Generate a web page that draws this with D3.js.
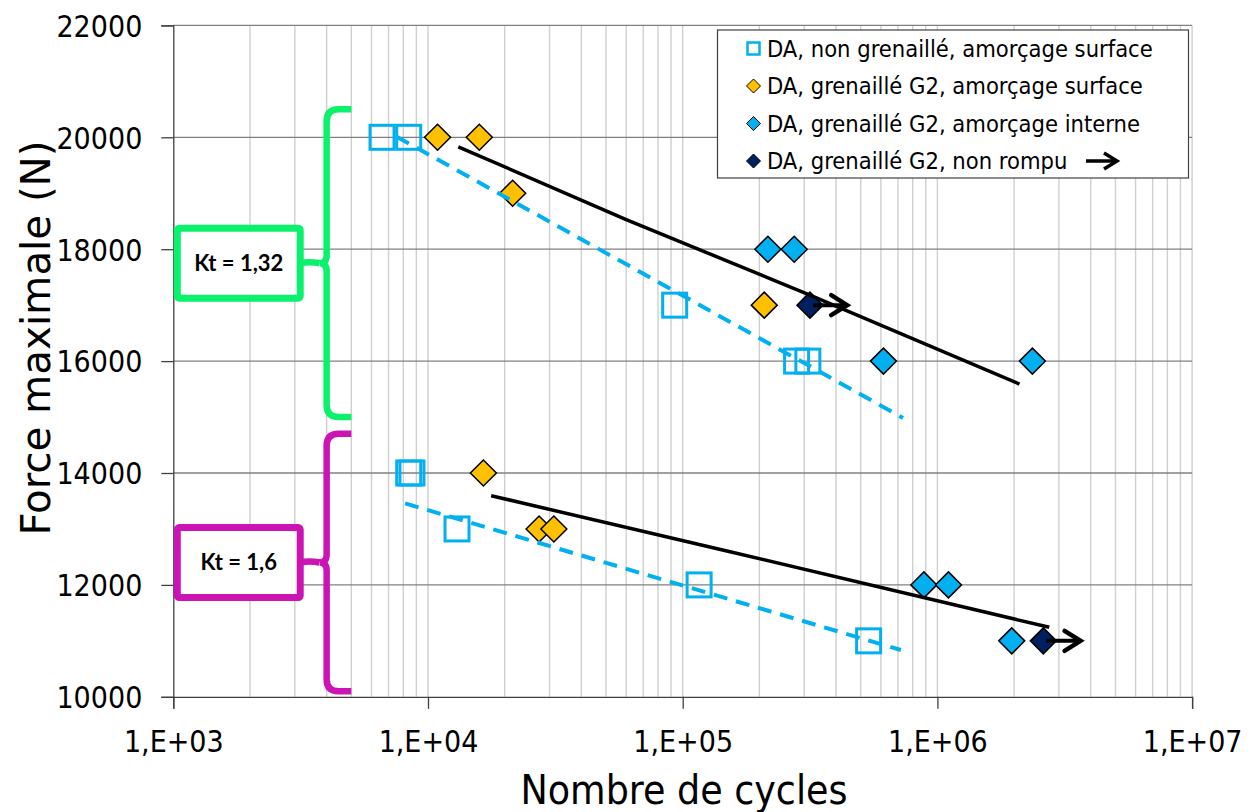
<!DOCTYPE html>
<html>
<head>
<meta charset="utf-8">
<script src="https://cdn.jsdelivr.net/npm/d3@7"></script>
<style>
  body { margin: 0; background: #fff; }
  svg { display: block; }
  .tick-label { font-family: "DejaVu Sans Condensed", "DejaVu Sans", sans-serif; font-size: 30px; fill: #000; }
  .axis-title { font-family: "DejaVu Sans Condensed", "DejaVu Sans", sans-serif; font-size: 40px; fill: #000; }
  .legend-text { font-family: "DejaVu Sans Condensed", "DejaVu Sans", sans-serif; font-size: 23.5px; fill: #000; }
  .kt-text { font-family: Lato, "Open Sans", sans-serif; font-weight: bold; font-size: 22px; fill: #000; }
</style>
</head>
<body>
<svg id="chart" width="1257" height="812"></svg>
<script>
// ----- data -----
// DA, non grenaille, amorcage surface (open squares)
const ngCycles = [6600, 8400, 93000, 280000, 310000, 8400, 8650, 13000, 116000, 537000]
const ngForce = [20000, 20000, 17000, 16000, 16000, 14000, 14000, 13000, 12000, 11000]
// DA, grenaille G2, amorcage surface (orange diamonds)
const gsCycles = [10900, 15900, 21500, 209000, 16500, 27300, 31200]
const gsForce = [20000, 20000, 19000, 17000, 14000, 13000, 13000]
// DA, grenaille G2, amorcage interne (cyan diamonds)
const giCycles = [216000, 274000, 614000, 2360000, 885000, 1105000, 1958000]
const giForce = [18000, 18000, 16000, 16000, 12000, 12000, 11000]
// DA, grenaille G2, non rompu (navy diamonds + arrow)
const nrCycles = [316000, 2606000]
const nrForce = [17000, 11000]

// fitted curves
const fitG2Cycles = [[13150, 60000, 316000, 2100000], [17700, 153500, 2750000]]
const fitG2Force = [[19830, 18530, 17180, 15590], [13594, 12593, 11242]]
const fitNgCycles = [[7530, 733000], [8130, 719000]]
const fitNgForce = [[20011, 14983], [13458, 10836]]

// Kt groups
const ktLabels = ['Kt = 1,32', 'Kt = 1,6']
const ktTop = [20500, 14700]
const ktBottom = [15000, 10100]
const ktMid = [17750, 12400]
const ktColors = ['#0af26c', '#cc14b4']

// axes
const xTicks = [1e3, 1e4, 1e5, 1e6, 1e7]
const xTickLabels = ['1,E+03', '1,E+04', '1,E+05', '1,E+06', '1,E+07']
const yTicks = [10000, 12000, 14000, 16000, 18000, 20000, 22000]

const legendLabels = [
  'DA, non grenaillé, amorçage surface',
  'DA, grenaillé G2, amorçage surface',
  'DA, grenaillé G2, amorçage interne',
  'DA, grenaillé G2, non rompu'
]

const cyan = '#00b0f0'
const orange = '#ffc000'
const navy = '#002060'

const svg = d3.select('#chart')
const plotLeft = 173.3, plotRight = 1192.1, plotTop = 25.4, plotBottom = 696.8

const x = d3.scaleLog().domain([1e3, 1e7]).range([plotLeft, plotRight])
const y = d3.scaleLinear().domain([10000, 22000]).range([plotBottom, plotTop])

// minor vertical gridlines 1..9 x 10^k
const minor = []
for (let k = 3; k < 7; k++) {
  for (let m = 2; m <= 10; m++) minor.push(m * Math.pow(10, k))
}
svg.append('g')
  .selectAll('line')
  .data(minor)
  .enter()
  .append('line')
  .attr('x1', d => x(d)).attr('x2', d => x(d))
  .attr('y1', plotTop).attr('y2', plotBottom)
  .attr('stroke', '#cfcfcf')
  .attr('stroke-width', 1.4)

// horizontal gridlines
svg.append('g')
  .selectAll('line')
  .data(yTicks.slice(1))
  .enter()
  .append('line')
  .attr('x1', plotLeft).attr('x2', plotRight)
  .attr('y1', d => y(d)).attr('y2', d => y(d))
  .attr('stroke', '#808080')
  .attr('stroke-width', 1.3)

// axes
const bottomAxis = d3.axisBottom(x)
  .tickValues(xTicks)
  .tickSize(12)
  .tickFormat((d, i) => xTickLabels[i])
const xg = svg.append('g')
  .attr('transform', `translate(0, ${plotBottom})`)
  .call(bottomAxis)
xg.attr('font-size', null).attr('font-family', null)
xg.select('.domain').attr('stroke', '#404040').attr('stroke-width', 1.3)
xg.selectAll('.tick line').attr('stroke', '#404040').attr('stroke-width', 1.3)
xg.selectAll('.tick text')
  .attr('class', 'tick-label')
  .attr('y', 55)
  .attr('dy', null)

const leftAxis = d3.axisLeft(y)
  .tickValues(yTicks)
  .tickSize(12)
  .tickFormat(d3.format('d'))
const yg = svg.append('g')
  .attr('transform', `translate(${plotLeft}, 0)`)
  .call(leftAxis)
yg.attr('font-size', null).attr('font-family', null)
yg.select('.domain').attr('stroke', '#404040').attr('stroke-width', 1.3)
yg.selectAll('.tick line').attr('stroke', '#404040').attr('stroke-width', 1.3)
yg.selectAll('.tick text')
  .attr('class', 'tick-label')
  .attr('x', -31)
  .attr('dy', '0.36em')

// axis titles
svg.append('text')
  .attr('class', 'axis-title')
  .attr('x', 684)
  .attr('y', 804)
  .attr('text-anchor', 'middle')
  .attr('textLength', 327)
  .attr('lengthAdjust', 'spacingAndGlyphs')
  .text('Nombre de cycles')
svg.append('text')
  .attr('class', 'axis-title')
  .attr('transform', `translate(50, 338) rotate(-90)`)
  .attr('text-anchor', 'middle')
  .attr('textLength', 395)
  .attr('lengthAdjust', 'spacingAndGlyphs')
  .text('Force maximale (N)')

// Kt braces and boxes
const x4 = x(4000), x5 = x(5000)
ktLabels.forEach((label, i) => {
  const yt = y(ktTop[i]), yb = y(ktBottom[i]), ym = y(ktMid[i])
  const r = 12
  const brace = `M${x5},${yt} L${x4 + r},${yt} Q${x4},${yt} ${x4},${yt + r} ` +
    `L${x4},${ym - 8} Q${x4},${ym} ${x4 - 7},${ym} Q${x4},${ym} ${x4},${ym + 8} ` +
    `L${x4},${yb - r} Q${x4},${yb} ${x4 + r},${yb} L${x5},${yb}`
  svg.append('path')
    .attr('d', brace)
    .attr('fill', 'none')
    .attr('stroke', ktColors[i])
    .attr('stroke-width', 6.5)
  const bx0 = x(1000) + 4, bx1 = x(3150)
  svg.append('path')
    .attr('d', `M${bx1},${ym} Q${x4 - 18},${ym - 2} ${x4 - 7},${ym}`)
    .attr('fill', 'none')
    .attr('stroke', ktColors[i])
    .attr('stroke-width', 6.5)
  svg.append('rect')
    .attr('x', bx0)
    .attr('y', ym - 35)
    .attr('width', bx1 - bx0)
    .attr('height', 70)
    .attr('rx', 2)
    .attr('fill', '#fff')
    .attr('stroke', ktColors[i])
    .attr('stroke-width', 7)
  svg.append('text')
    .attr('class', 'kt-text')
    .attr('x', (bx0 + bx1) / 2)
    .attr('y', ym)
    .attr('dy', '0.36em')
    .attr('text-anchor', 'middle')
    .text(label)
})

// markers
const diamond = s => `M0,${-s} L${s},0 L0,${s} L${-s},0 Z`

svg.append('g')
  .selectAll('rect')
  .data(ngCycles.map((c, i) => ({ c: c, f: ngForce[i] })))
  .enter()
  .append('rect')
  .attr('x', d => x(d.c) - 12)
  .attr('y', d => y(d.f) - 12)
  .attr('width', 24)
  .attr('height', 24)
  .attr('fill', 'none')
  .attr('stroke', cyan)
  .attr('stroke-width', 3)

function diamonds(cycles, force, fill) {
  svg.append('g')
    .selectAll('path')
    .data(cycles.map((c, i) => ({ c: c, f: force[i] })))
    .enter()
    .append('path')
    .attr('d', diamond(13))
    .attr('transform', d => `translate(${x(d.c)}, ${y(d.f)})`)
    .attr('fill', fill)
    .attr('stroke', '#000')
    .attr('stroke-width', 1.5)
}
diamonds(gsCycles, gsForce, orange)
diamonds(giCycles, giForce, cyan)
diamonds(nrCycles, nrForce, navy)

// fit lines
const line = d3.line().x(d => x(d[0])).y(d => y(d[1]))
fitNgCycles.forEach((cs, i) => {
  svg.append('path')
    .attr('d', line(cs.map((c, j) => [c, fitNgForce[i][j]])))
    .attr('fill', 'none')
    .attr('stroke', cyan)
    .attr('stroke-width', 4)
    .attr('stroke-dasharray', '14,9')
})
fitG2Cycles.forEach((cs, i) => {
  svg.append('path')
    .attr('d', line(cs.map((c, j) => [c, fitG2Force[i][j]])))
    .attr('fill', 'none')
    .attr('stroke', '#000')
    .attr('stroke-width', 3.5)
})

// run-out arrows
function arrow(x0, x1, yy) {
  svg.append('line')
    .attr('x1', x0).attr('x2', x1 - 2)
    .attr('y1', yy).attr('y2', yy)
    .attr('stroke', '#000').attr('stroke-width', 4)
  svg.append('path')
    .attr('d', `M${x1 - 16},${yy - 10} L${x1},${yy} L${x1 - 16},${yy + 10}`)
    .attr('fill', 'none')
    .attr('stroke', '#000')
    .attr('stroke-width', 4.5)
    .attr('stroke-linecap', 'round')
}
nrCycles.forEach((c, i) => arrow(x(c) + 3, x(c * 1.4), y(nrForce[i])))

// legend
const lg = svg.append('g')
lg.append('rect')
  .attr('x', 717.5).attr('y', 30)
  .attr('width', 471).attr('height', 148)
  .attr('fill', '#fff')
  .attr('stroke', '#404040')
  .attr('stroke-width', 1.2)
const legendY = [48.5, 86, 123.5, 161]
lg.append('rect')
  .attr('x', 747.5).attr('y', legendY[0] - 6)
  .attr('width', 12).attr('height', 12)
  .attr('fill', 'none').attr('stroke', cyan).attr('stroke-width', 2.5)
const legendFills = [null, orange, cyan, navy]
legendFills.forEach((f, i) => {
  if (!f) return
  lg.append('path')
    .attr('d', diamond(7))
    .attr('transform', `translate(753.5, ${legendY[i]})`)
    .attr('fill', f)
    .attr('stroke', '#000')
    .attr('stroke-width', 1)
})
lg.selectAll('text')
  .data(legendLabels)
  .enter()
  .append('text')
  .attr('class', 'legend-text')
  .attr('x', 767)
  .attr('y', (d, i) => legendY[i])
  .attr('dy', '0.36em')
  .text(d => d)
lg.append('line')
  .attr('x1', 1086).attr('x2', 1116)
  .attr('y1', legendY[3]).attr('y2', legendY[3])
  .attr('stroke', '#000').attr('stroke-width', 3.5)
lg.append('path')
  .attr('d', `M${1104},${legendY[3] - 8} L${1117},${legendY[3]} L${1104},${legendY[3] + 8}`)
  .attr('fill', 'none').attr('stroke', '#000').attr('stroke-width', 3.5)
</script>
</body>
</html>
